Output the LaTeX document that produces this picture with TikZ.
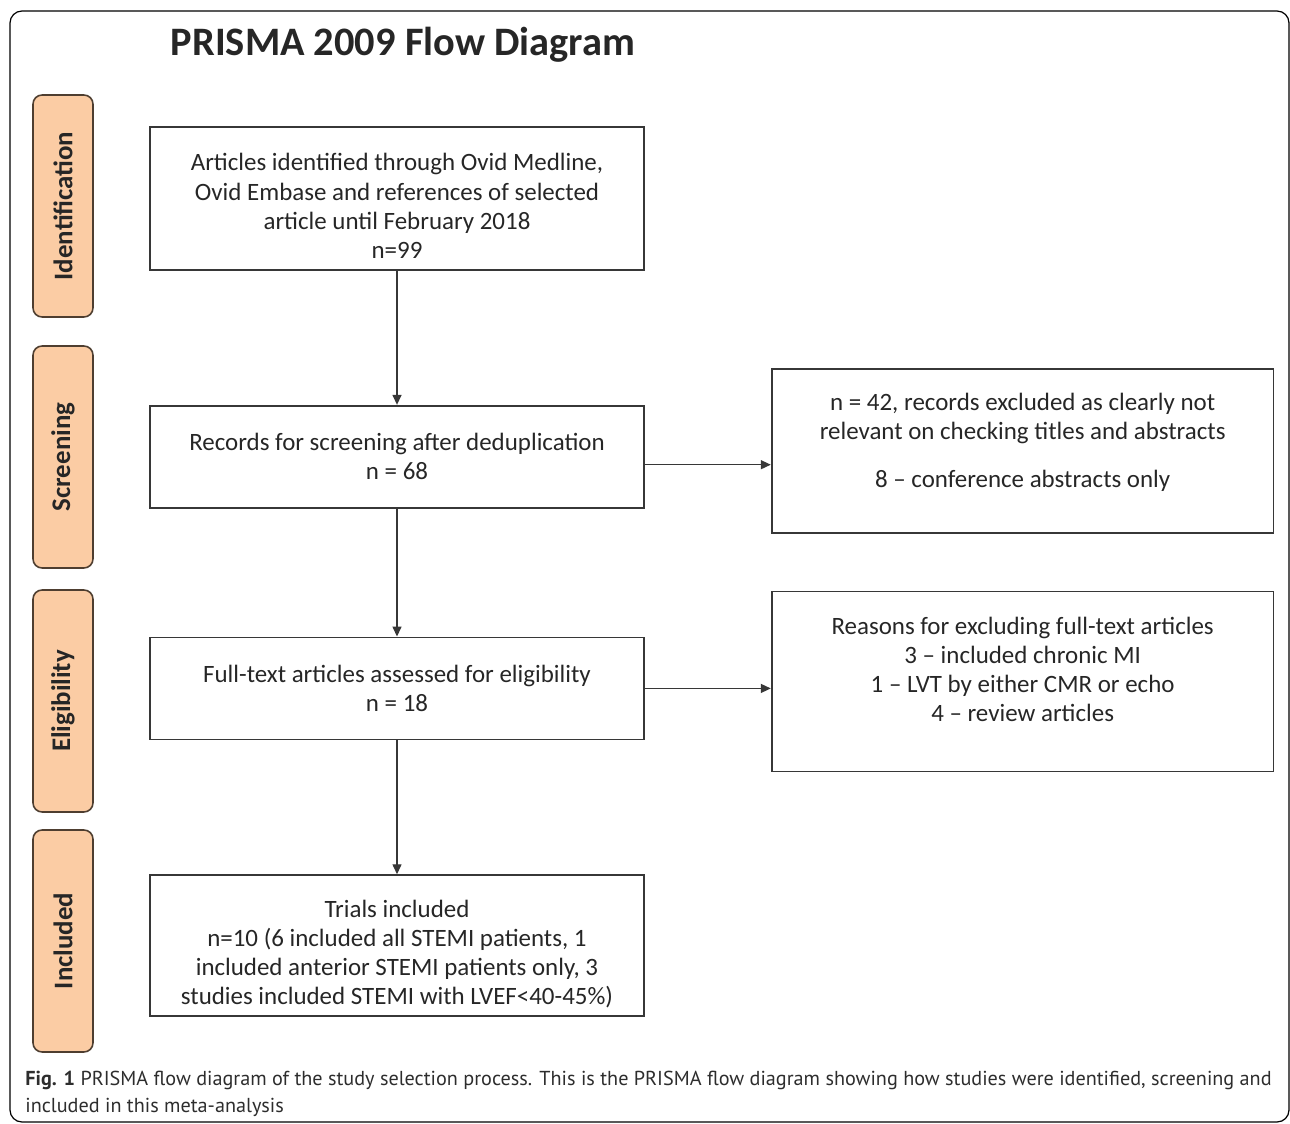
\documentclass[tikz,border=0pt]{standalone}
\usepackage{fontspec}
\setmainfont{Carlito}
\newfontfamily\capfont{PT Sans}
\usepackage{tikz}
\usetikzlibrary{arrows.meta,positioning}
\definecolor{stagefill}{RGB}{251,204,164}
\definecolor{stageline}{RGB}{78,62,48}
\definecolor{boxline}{RGB}{55,55,55}
\definecolor{captext}{RGB}{45,45,45}
\newcommand{\lowerby}[1]{\rule{0pt}{#1}}
\newcommand{\raiseby}[1]{\rule[-#1]{0pt}{#1}}
\tikzset{
  >={Triangle[length=2mm,width=1.8mm]},
  box/.style={draw=boxline, line width=1pt, align=center, minimum width=9.88cm, text=black!85, font=\fontsize{14.2}{16.6}\selectfont},
  sidebox/.style={box, minimum width=10.04cm},
  stage/.style={draw=stageline, fill=stagefill, line width=0.9pt, rounded corners=0.18cm, rotate=90, minimum width=4.44cm, minimum height=1.2cm, text=black!85, font=\bfseries\fontsize{15.3}{18}\selectfont},
  flow/.style={->, line width=0.8pt, draw=boxline},
  title/.style={text=black!85, font=\bfseries\fontsize{23}{28}\selectfont},
  caption/.style={align=left, inner sep=0pt, text=captext, font=\capfont\fontsize{11.5}{15.3}\selectfont},
}

\begin{document}
\begin{tikzpicture}[x=0.02cm, y=-0.02cm]
  \useasboundingbox (0,0) rectangle (1290,1124);
  \draw[line width=0.7pt, rounded corners=0.24cm] (10,11) rectangle (1289,1122);

  \node[title] (title) at (403,45) {PRISMA 2009 Flow Diagram};

  % stages on the left
  \node[stage] (ident) at (63,206) {Identification};
  \node[stage] (screen) at (63,457) {Screening};
  \node[stage] (elig) at (63,701) {Eligibility};
  \node[stage] (incl) at (63,941) {Included};

  % main column
  \node[box, minimum height=2.86cm] (found) at (397,198.5)
    {\lowerby{0.65cm}Articles identified through Ovid Medline,\\Ovid Embase and references of selected\\article until February 2018\\n=99};
  \node[box, minimum height=2.04cm, below=2.68cm of found] (dedup)
    {Records for screening after deduplication\\n = 68};
  \node[box, minimum height=2.04cm, below=2.56cm of dedup] (fulltext)
    {Full-text articles assessed for eligibility\\n = 18};
  \node[box, minimum height=2.82cm, below=2.68cm of fulltext] (trials)
    {\lowerby{0.69cm}Trials included\\n=10 (6 included all STEMI patients, 1\\included anterior STEMI patients only, 3\\studies included STEMI with LVEF<40-45\%)};

  % exclusions
  \node[sidebox, minimum height=3.28cm, right=2.52cm of dedup, yshift=0.12cm] (excl)
    {n = 42, records excluded as clearly not\\relevant on checking titles and abstracts\\[0.36cm]8 – conference abstracts only\raiseby{0.42cm}};
  \node[sidebox, minimum height=3.6cm, right=2.52cm of fulltext, yshift=0.14cm] (reasons)
    {Reasons for excluding full-text articles\\3 – included chronic MI\\1 – LVT by either CMR or echo\\4 – review articles\raiseby{0.48cm}};

  \draw[flow] (found) -- (dedup);
  \draw[flow] (dedup) -- (fulltext);
  \draw[flow] (fulltext) -- (trials);
  \draw[flow] ([yshift=-0.16cm]dedup.east) -- ([yshift=-0.16cm]dedup.east -| excl.west);
  \draw[flow] (fulltext.east) -- (fulltext.east -| reasons.west);

  % caption, base is the last line
  \node[caption, anchor=base west] (cap) at (25,1112)
    {{\bfseries Fig. 1} PRISMA flow diagram of the study selection process. This is the PRISMA flow diagram showing how studies were identified, screening and\\included in this meta-analysis};
\end{tikzpicture}
\end{document}
